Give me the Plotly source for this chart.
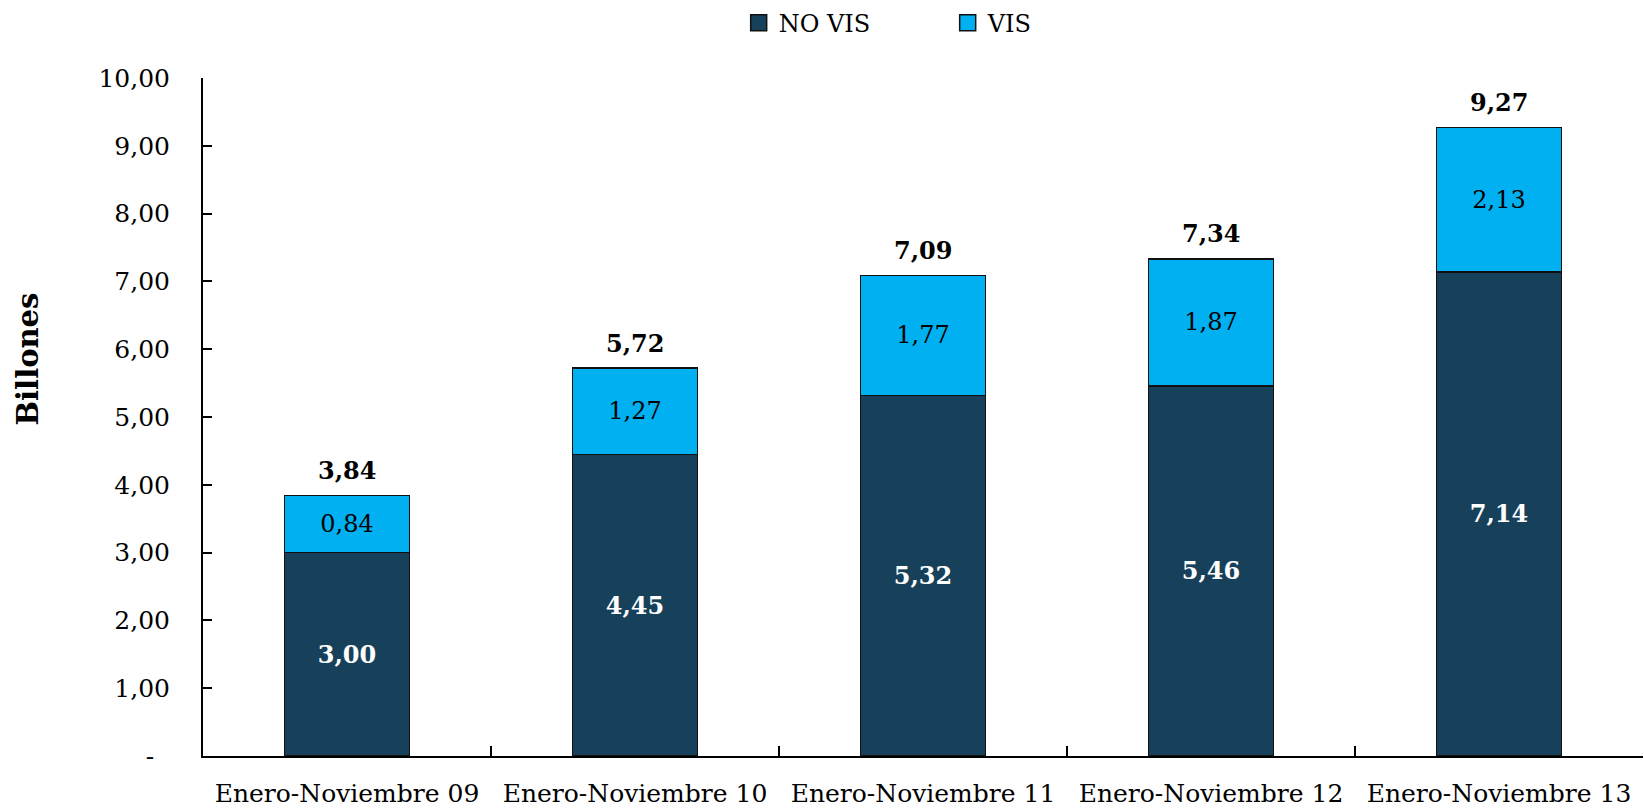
import plotly.graph_objects as go

# Valores en billones de pesos, enero-noviembre de cada año
categorias = ["Enero-Noviembre 09", "Enero-Noviembre 10", "Enero-Noviembre 11",
              "Enero-Noviembre 12", "Enero-Noviembre 13"]
no_vis = [3.00, 4.45, 5.32, 5.46, 7.14]
vis = [0.84, 1.27, 1.77, 1.87, 2.13]
totales = [3.84, 5.72, 7.09, 7.34, 9.27]

y_ticks = [0, 1, 2, 3, 4, 5, 6, 7, 8, 9, 10]
y_ticktext = ["-&nbsp;&nbsp;", "1,00", "2,00", "3,00", "4,00", "5,00",
              "6,00", "7,00", "8,00", "9,00", "10,00"]

FONT = "DejaVu Serif"
COLOR_NO_VIS = "#17415A"
COLOR_VIS = "#00B0F0"
EDGE = "#111111"

fig = go.Figure()

fig.add_trace(go.Bar(
    name="NO VIS", x=categorias, y=no_vis, showlegend=False,
    marker=dict(color=COLOR_NO_VIS, line=dict(color=EDGE, width=1.5)),
    texttemplate="%{y:.2f}", textposition="inside", insidetextanchor="middle",
    textangle=0, constraintext="none",
    textfont=dict(family=FONT, size=24, color="white", weight="bold"),
))
fig.add_trace(go.Bar(
    name="VIS", x=categorias, y=vis, showlegend=False,
    marker=dict(color=COLOR_VIS, line=dict(color=EDGE, width=1.5)),
    texttemplate="%{y:.2f}", textposition="inside", insidetextanchor="middle",
    textangle=0, constraintext="none",
    textfont=dict(family=FONT, size=24, color="black"),
))

# Entradas de leyenda con cuadros más grandes
for nombre, color in [("NO VIS", COLOR_NO_VIS), ("VIS", COLOR_VIS)]:
    fig.add_trace(go.Scatter(
        name=nombre, x=[None], y=[None], mode="markers",
        marker=dict(symbol="square", size=16, color=color,
                    line=dict(color=EDGE, width=1.5)),
    ))

# Total de cada barra sobre la pila
for cat, tot in zip(categorias, totales):
    fig.add_annotation(
        x=cat, y=tot, text=f"{tot:.2f}".replace(".", ","),
        showarrow=False, yanchor="middle", yshift=25,
        font=dict(family=FONT, size=24, color="black", weight="bold"),
    )

# Título del eje vertical
fig.add_annotation(
    xref="paper", yref="paper", x=-0.1215, y=0.585,
    text="Billones", textangle=-90, showarrow=False,
    xanchor="center", yanchor="middle",
    font=dict(family=FONT, size=29, color="black", weight="bold"),
)

fig.update_layout(
    width=1644, height=809, autosize=False,
    margin=dict(l=203, r=1, t=76, b=53),
    barmode="stack", bargap=0.566,
    separators=",.",
    plot_bgcolor="white", paper_bgcolor="white",
    font=dict(family=FONT, size=24, color="black"),
    legend=dict(
        orientation="h", x=0.372, xanchor="left", y=1.081, yanchor="middle",
        font=dict(family=FONT, size=24, color="black"),
        entrywidth=164, traceorder="normal", itemsizing="trace",
    ),
    xaxis=dict(
        showline=True, linecolor="black", linewidth=2, automargin=False,
        ticks="inside", tickson="boundaries", ticklen=10, tickwidth=1.5,
        tickcolor="black", showgrid=False, ticklabelstandoff=14,
        tickfont=dict(family=FONT, size=25, color="black"),
    ),
    yaxis=dict(
        range=[0, 10], tickvals=y_ticks, ticktext=y_ticktext, automargin=False,
        showline=True, linecolor="black", linewidth=2,
        ticks="inside", ticklen=9, tickwidth=2, tickcolor="black",
        showgrid=False, zeroline=False, ticklabelstandoff=26,
        tickfont=dict(family=FONT, size=25, color="black"),
    ),
)

fig.write_html("out.html")
